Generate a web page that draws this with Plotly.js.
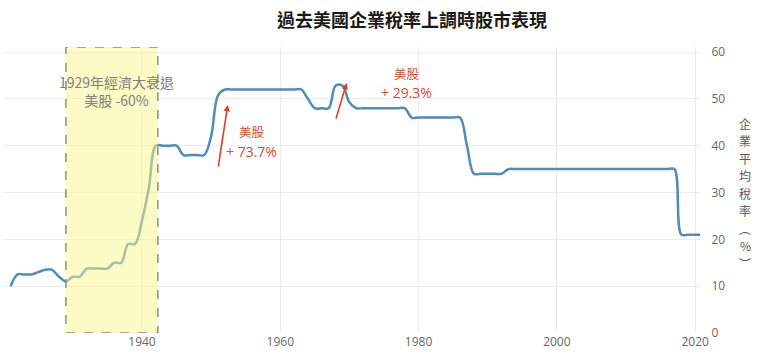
<!DOCTYPE html>
<html><head><meta charset="utf-8">
<script src="https://cdn.plot.ly/plotly-3.0.1.min.js"></script>
<style>body{margin:0;background:#fff}#c{width:760px;height:363px}</style>
</head><body><div id="c"></div>
<script>
const years = [1921,1922,1923,1924,1925,1926,1927,1928,1929,1930,1931,1932,1933,1934,1935,1936,1937,1938,1939,1940,
1941,1942,1943,1944,1945,1946,1947,1948,1949,1950,1951,1952,1953,1954,1955,1956,1957,1958,1959,1960,
1961,1962,1963,1964,1965,1966,1967,1968,1969,1970,1971,1972,1973,1974,1975,1976,1977,1978,1979,1980,
1981,1982,1983,1984,1985,1986,1987,1988,1989,1990,1991,1992,1993,1994,1995,1996,1997,1998,1999,2000,
2001,2002,2003,2004,2005,2006,2007,2008,2009,2010,2011,2012,2013,2014,2015,2016,2017,2018,2019,2020,2021];
const taxRate = [10,12.5,12.5,12.5,13,13.5,13.5,12,11,12,12,13.75,13.75,13.75,13.75,15,15,19,19,24,
31,40,40,40,40,38,38,38,38,42,50.75,52,52,52,52,52,52,52,52,52,
52,52,52,50,48,48,48,52.8,52.8,49.2,48,48,48,48,48,48,48,48,46,46,
46,46,46,46,46,46,40,34,34,34,34,34,35,35,35,35,35,35,35,35,
35,35,35,35,35,35,35,35,35,35,35,35,35,35,35,35,35,21,21,21,21];
const xTicks = [1940,1960,1980,2000,2020];
const yTicks = [0,10,20,30,40,50,60];
const titleText = '過去美國企業稅率上調時股市表現';
const yTitleChars = ['企','業','平','均','稅','率','︵','%','︶'];
const crisisStart = 1929, crisisEnd = 1942.3;
const crisisLabel = '1929年經濟大衰退<br>美股 -60%';
const rally1 = {top:'美股', bottom:'+ 73.7%', x:1955.8, y:40.9, ax:1951.0, ay:35.2, hx:1952.4, hy:48.7};
const rally2 = {top:'美股', bottom:'+ 29.3%', x:1978.3, y:53.4, ax:1968.0, ay:45.5, hx:1969.6, hy:53.4};

const cjk = '"Noto Sans CJK TC", "Noto Sans", sans-serif';
const red = '#e2472c';
const annotations = [
  {x:(crisisStart+crisisEnd)/2+0.6, y:51.7, xref:'x', yref:'y', text:crisisLabel, showarrow:false,
   font:{family:cjk, size:14, color:'#808080'}, align:'center'}
];
[rally1, rally2].forEach(r=>{
  annotations.push({x:r.x, y:r.y, xref:'x', yref:'y', yshift:9.5, text:r.top, showarrow:false, borderpad:0,
    font:{family:cjk, size:12.5, color:red}, yanchor:'middle'});
  annotations.push({x:r.x, y:r.y, xref:'x', yref:'y', yshift:-9.8, text:r.bottom, showarrow:false, borderpad:0,
    font:{family:'"Open Sans", sans-serif', size:14, color:red}, yanchor:'middle'});
  annotations.push({x:r.hx, y:r.hy, ax:r.ax, ay:r.ay, xref:'x', yref:'y', axref:'x', ayref:'y',
    text:'', showarrow:true, arrowhead:2, arrowsize:0.8, arrowwidth:1.6, arrowcolor:'#d9412a'});
});
yTitleChars.forEach((ch,i)=>{
  annotations.push({xref:'paper', yref:'paper', x:1.0646, y:0.4895, yshift:(4-i)*17.5,
    text:ch, showarrow:false, font:{family:cjk, size:12, color:'#555'}, xanchor:'center', yanchor:'middle', borderpad:0});
});

const trace = {x:years, y:taxRate, type:'scatter', mode:'lines',
  line:{color:'#4f8cbe', width:2.5, shape:'spline', smoothing:1}, hoverinfo:'skip'};

const layout = {
  width:760, height:363,
  margin:{l:3, r:60, t:47, b:30},
  paper_bgcolor:'#fff', plot_bgcolor:'#fff',
  showlegend:false,
  title:{text:titleText, x:0.542, xref:'container', xanchor:'center', y:0.942, yanchor:'middle',
    font:{family:cjk, size:18, color:'#1a1a1a', weight:'bold'}},
  xaxis:{range:[1919.9, 2020.7], tickvals:xTicks, ticktext:xTicks.map(String), showgrid:true,
    gridcolor:'#ececec', gridwidth:1, zeroline:false, showline:false, ticks:'', 
    tickfont:{family:'"Open Sans", sans-serif', size:12, color:'#666'}},
  yaxis:{range:[0, 61.07], side:'right', tickvals:yTicks, ticktext:yTicks.map(String), showgrid:true,
    gridcolor:'#ececec', gridwidth:1, zeroline:false, showline:false, ticks:'outside', ticklen:8, tickcolor:'#fff',
    tickfont:{family:'"Open Sans", sans-serif', size:12, color:'#666'}},
  shapes:[{type:'rect', xref:'x', yref:'y', x0:crisisStart, x1:crisisEnd, y0:0, y1:61.07, layer:'above',
    fillcolor:'rgba(250,245,140,0.5)', line:{color:'#8a8a6e', width:1.4, dash:'dash'}}],
  annotations:annotations
};
Plotly.newPlot('c', [trace], layout, {displayModeBar:false, staticPlot:true});
</script></body></html>
